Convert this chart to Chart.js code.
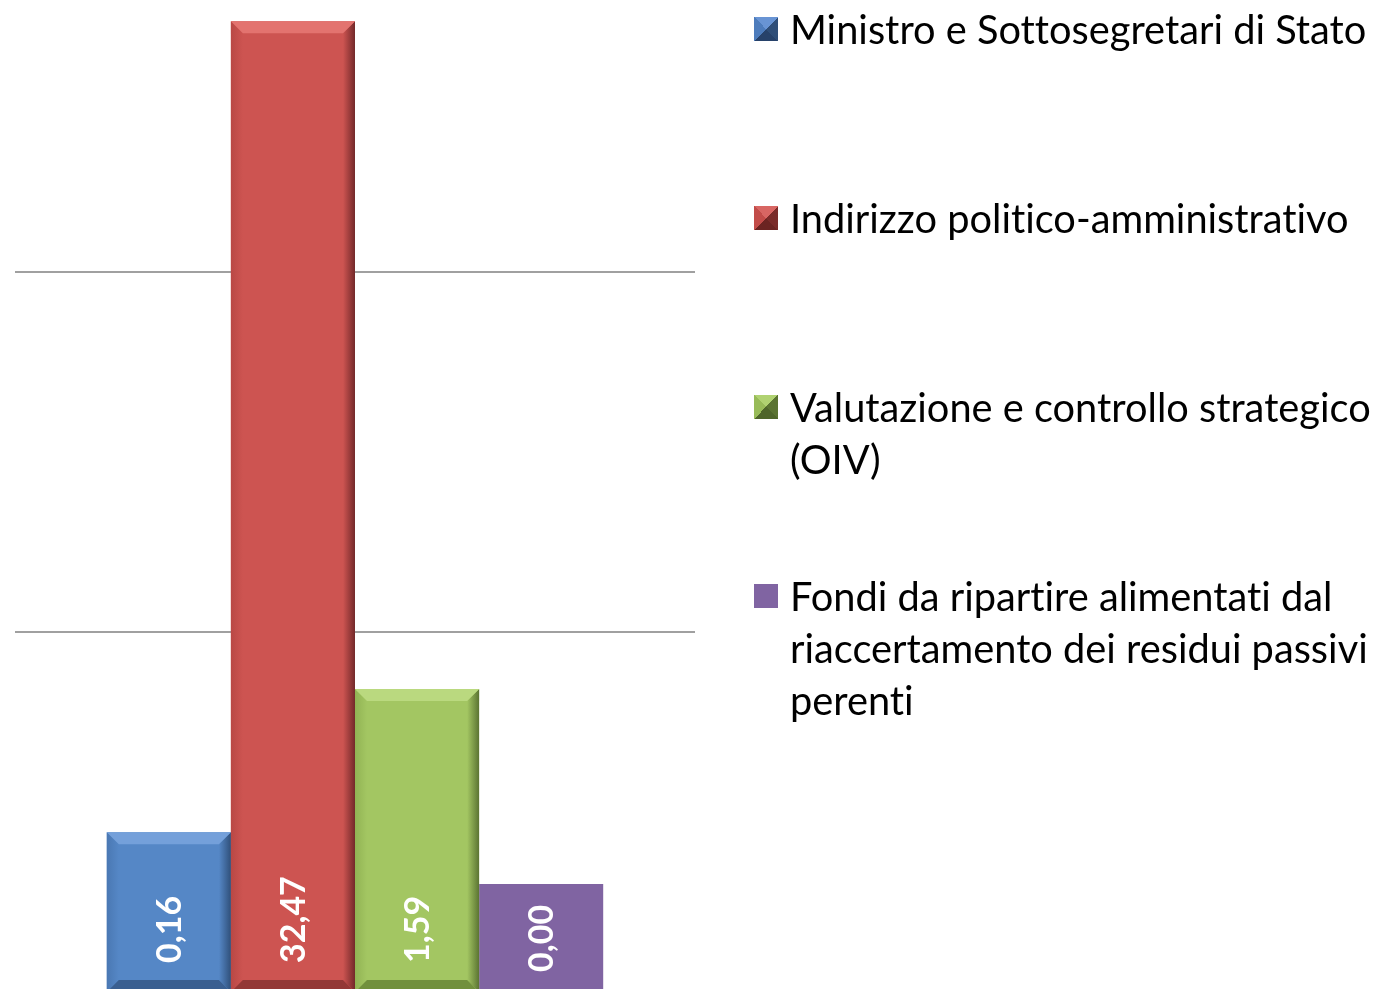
<!DOCTYPE html>
<html>
<head>
<meta charset="utf-8">
<script src="https://cdn.jsdelivr.net/npm/chart.js"></script>
<style>
html, body { margin:0; padding:0; background:#fff; overflow:hidden; }
#box { position:relative; width:1376px; height:989px; overflow:hidden; }
#wrap { position:absolute; left:0; top:0; width:1376px; height:992px; }
#legend { position:absolute; left:0; top:0; width:1376px; height:989px; }
.item { position:absolute; left:754px; font-family:Lato, sans-serif; color:#000; font-variant-ligatures:none; }
.mark { position:absolute; left:0; width:24px; height:24px; }
.txt { position:absolute; left:36px; top:0; width:620px; line-height:52px; }
</style>
</head>
<body>
<div id="box">
  <div id="wrap"><canvas id="grafico"></canvas></div>
  <div id="legend"></div>
</div>
<script>
const seriesNames = [
  'Ministro e Sottosegretari di Stato',
  'Indirizzo politico-amministrativo',
  'Valutazione e controllo strategico (OIV)',
  'Fondi da ripartire alimentati dal riaccertamento dei residui passivi perenti'
];
const valueLabels = ['0,16', '32,47', '1,59', '0,00'];
// bar heights read against the two unlabelled gridlines (taken as 100 and 200)
const barHeights = [44.4, 269.7, 84.2, 30.0];
const gridTicks = [100, 200];

const barColors = ['#5587c6', '#cd5451', '#a3c662', '#8064a2'];
const bevels = [
  {top:'#74a0da', edge:'#4a78b3', dark:'#30507a', bottom:'#3a5f90'},
  {top:'#e3736f', edge:'#b94845', dark:'#73292a', bottom:'#933836'},
  {top:'#bad97f', edge:'#91b354', dark:'#5b7432', bottom:'#71903d'},
  null
];
// marker triangles: top, right, bottom, left
const legendMarks = [
  ['#6894d4', '#2f4e78', '#27426a', '#4d7cbc'],
  ['#d86663', '#7a2b29', '#6b2422', '#c24c49'],
  ['#b0d271', '#5a7331', '#4e652a', '#98bb58'],
  null
];

function poly(ctx, pts, fill) {
  ctx.beginPath();
  ctx.moveTo(pts[0][0], pts[0][1]);
  for (let i = 1; i < pts.length; i++) ctx.lineTo(pts[i][0], pts[i][1]);
  ctx.closePath();
  ctx.fillStyle = fill;
  ctx.fill();
}

const bevelPlugin = {
  id: 'bevel',
  afterDatasetsDraw(chart) {
    const ctx = chart.ctx;
    ctx.save();
    chart.data.datasets.forEach((ds, i) => {
      const b = bevels[i];
      chart.getDatasetMeta(i).data.forEach((el, j) => {
        const x0 = el.x - el.width/2, x1 = el.x + el.width/2;
        const y0 = el.y, y1 = el.base, w = 12;
        if (b) {
          let g = ctx.createLinearGradient(x0, 0, x0 + w, 0);
          g.addColorStop(0, b.edge); g.addColorStop(1, barColors[i]);
          poly(ctx, [[x0,y0],[x0+w,y0+w],[x0+w,y1-w],[x0,y1]], g);
          g = ctx.createLinearGradient(x1 - w, 0, x1, 0);
          g.addColorStop(0, barColors[i]); g.addColorStop(1, b.dark);
          poly(ctx, [[x1,y0],[x1,y1],[x1-w,y1-w],[x1-w,y0+w]], g);
          poly(ctx, [[x0,y0],[x1,y0],[x1-w,y0+w],[x0+w,y0+w]], b.top);
          poly(ctx, [[x0,y1],[x0+w,y1-w],[x1-w,y1-w],[x1,y1]], b.bottom);
        }
        // value label, rotated, reading upwards from near the base
        ctx.save();
        ctx.translate(el.x, el.base - (b ? 29 : 20));
        ctx.rotate(-Math.PI/2);
        ctx.font = 'bold 34px Lato, sans-serif';
        ctx.fillStyle = '#fff';
        ctx.textAlign = 'left';
        ctx.textBaseline = 'alphabetic';
        ctx.fillText(valueLabels[i], 0, 12);
        ctx.restore();
      });
    });
    ctx.restore();
  }
};

new Chart(document.getElementById('grafico'), {
  type: 'bar',
  data: {
    labels: [''],
    datasets: seriesNames.map((name, i) => ({
      label: name,
      data: [barHeights[i]],
      backgroundColor: barColors[i],
      borderWidth: 0,
      categoryPercentage: 0.73,
      barPercentage: 1.0
    }))
  },
  options: {
    responsive: true,
    maintainAspectRatio: false,
    animation: false,
    layout: { padding: { left: 15, right: 681, top: 0, bottom: 0 } },
    scales: {
      x: { display: false },
      y: {
        min: 0,
        max: 275.6,
        afterBuildTicks: axis => { axis.ticks = gridTicks.map(v => ({value: v})); },
        ticks: { display: false },
        border: { display: false },
        grid: { color: '#a0a0a0', lineWidth: 2, drawTicks: false }
      }
    },
    plugins: {
      legend: { display: false },
      tooltip: { enabled: false }
    }
  },
  plugins: [bevelPlugin]
});

// legend on the right, wrapped text
const meas = document.createElement('canvas').getContext('2d');
meas.font = '40px Lato';
const fs = 40 * 575 / meas.measureText(seriesNames[0]).width;
const legendTops = [3, 192, 381, 570];
const legendBox = document.getElementById('legend');
seriesNames.forEach((name, i) => {
  const item = document.createElement('div');
  item.className = 'item';
  item.style.top = legendTops[i] + 'px';
  item.style.fontSize = fs.toFixed(2) + 'px';
  const mark = document.createElement('div');
  mark.className = 'mark';
  mark.style.top = '14px';
  const m = legendMarks[i];
  mark.style.background = m
    ? `conic-gradient(from -45deg, ${m[0]} 0deg 90deg, ${m[1]} 90deg 180deg, ${m[2]} 180deg 270deg, ${m[3]} 270deg 360deg)`
    : barColors[i];
  const txt = document.createElement('div');
  txt.className = 'txt';
  txt.textContent = name;
  item.appendChild(mark);
  item.appendChild(txt);
  legendBox.appendChild(item);
});
</script>
</body>
</html>
